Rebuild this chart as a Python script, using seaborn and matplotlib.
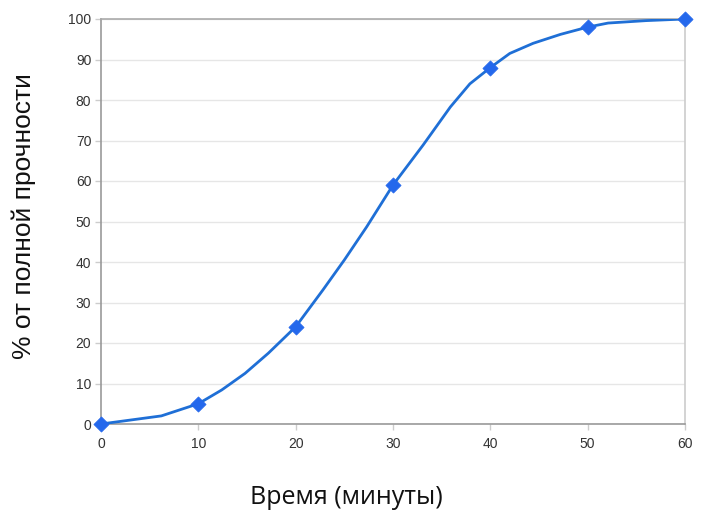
import matplotlib
matplotlib.use("Agg")
import matplotlib.pyplot as plt
import seaborn as sns
import pandas as pd

# Curve (smoothed line)
curve_x = [0, 6.2, 10, 12.4, 14.8, 17.2, 20, 22.8, 25, 27.3, 30, 33.1, 35.9, 37.9, 40, 42, 44.4, 47.2, 50, 52.1, 56, 60]
curve_y = [0, 2, 5, 8.4, 12.5, 17.5, 24, 33.1, 40.5, 48.7, 59, 68.9, 78.3, 84, 88, 91.5, 94, 96.2, 98, 99, 99.6, 100]
# Marked data points
time_min = [0, 10, 20, 30, 40, 50, 60]
strength_pct = [0, 5, 24, 59, 88, 98, 100]
x_ticks = [0, 10, 20, 30, 40, 50, 60]
y_ticks = [0, 10, 20, 30, 40, 50, 60, 70, 80, 90, 100]

sns.set_theme(style="white")
plt.rcParams['font.family'] = ['Liberation Sans', 'DejaVu Sans']

fig = plt.figure(figsize=(7.03, 5.15), dpi=100)
ax = fig.add_axes([101/703, 1 - 424/515, (685-101)/703, (424-19)/515])

curve = pd.DataFrame({"x": curve_x, "y": curve_y})
pts = pd.DataFrame({"x": time_min, "y": strength_pct})
sns.lineplot(data=curve, x="x", y="y", ax=ax, color="#1f6fd6", linewidth=2.0, sort=False, zorder=3)
sns.scatterplot(data=pts, x="x", y="y", ax=ax, marker="D", s=60, color="#2468ec",
                edgecolor="#2468ec", linewidth=0.5, zorder=4, clip_on=False)

ax.set_xlim(0, 60)
ax.set_ylim(0, 100)
ax.set_xticks(x_ticks)
ax.set_yticks(y_ticks)
ax.set_xticklabels([str(v) for v in x_ticks])
ax.set_yticklabels([str(v) for v in y_ticks])
ax.grid(axis="y", color="#e6e6e6", linewidth=1.0)
ax.grid(axis="x", visible=False)
ax.set_axisbelow(True)

for s, c in [("left", "#999999"), ("bottom", "#999999"), ("top", "#aaaaaa"), ("right", "#cccccc")]:
    ax.spines[s].set_visible(True)
    ax.spines[s].set_color(c)
    ax.spines[s].set_linewidth(1.2)

ax.tick_params(axis="y", which="both", left=True, length=4, width=1, color="#cccccc",
               labelsize=10, labelcolor="#333333", pad=3)
ax.tick_params(axis="x", which="both", bottom=True, length=4, width=1, color="#cccccc",
               labelsize=10, labelcolor="#333333", pad=5)

ax.set_xlabel("")
ax.set_ylabel("")
fig.text(346/703, 1 - 498/515, "Время (минуты)", ha="center", va="center",
         fontsize=18, color="#111111", family=["Open Sans", "DejaVu Sans"])
fig.text(24/703, 1 - 216/515, "% от полной прочности", ha="center", va="center",
         rotation=90, fontsize=19, color="#111111", family=["Liberation Sans", "DejaVu Sans"])

fig.savefig("out.png", dpi=100)
